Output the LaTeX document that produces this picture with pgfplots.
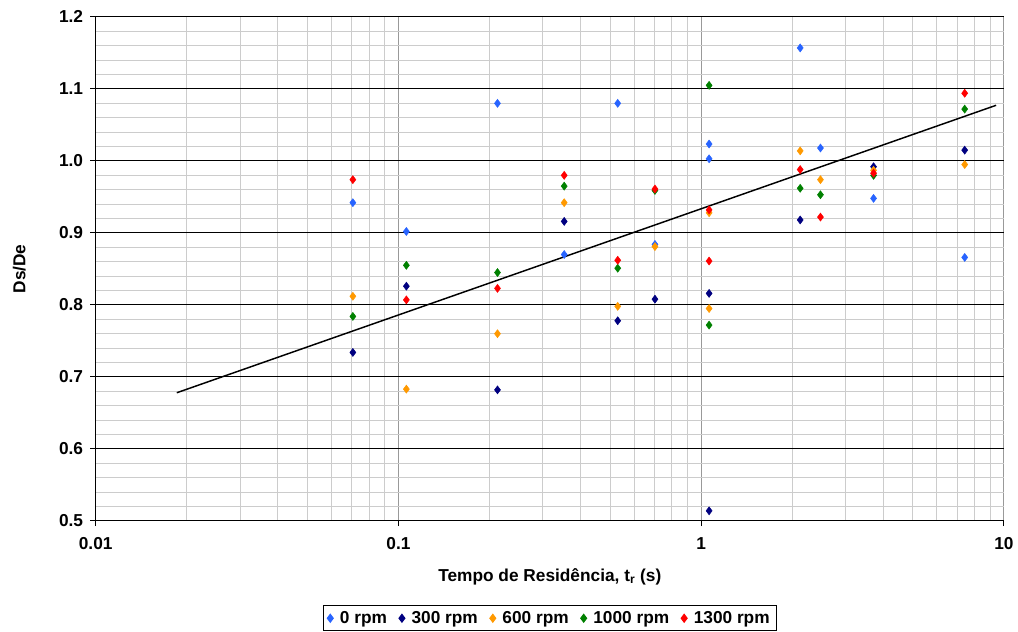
\documentclass[border=0pt]{standalone}
\usepackage{pgfplots}
\pgfplotsset{compat=1.18}
\usepackage{fontspec}
\setmainfont{Liberation Sans}
\definecolor{c0}{RGB}{40,100,255}
\definecolor{c300}{RGB}{0,0,128}
\definecolor{c600}{RGB}{255,153,0}
\definecolor{c1000}{RGB}{0,128,0}
\definecolor{c1300}{RGB}{255,0,0}
\begin{document}
\begin{tikzpicture}
\begin{axis}[
  at={(0,0)}, anchor=south west,
  scale only axis, width=683.25pt, height=379.1pt,
  xmode=log, xmin=0.01, xmax=10, ymin=0.5, ymax=1.2,
  xtick={0.01,0.1,1,10}, xticklabels={0.01,0.1,1,10},
  ytick={0.5,0.6,0.7,0.8,0.9,1.0,1.1,1.2},
  minor y tick num=4,
  grid=both,
  major x grid style={color=black!40, line width=0.75pt},
  major y grid style={color=black, line width=0.75pt},
  minor grid style={color=black!20, line width=0.75pt},
  axis lines*=left, axis line style={line width=0.75pt},
  tick align=outside, major tick length=4pt, minor tick length=0pt,
  tick style={black, line width=0.75pt},
  /pgf/number format/assume math mode=true,
  yticklabel style={/pgf/number format/.cd, fixed, fixed zerofill, precision=1, /tikz/.cd, xshift=-2pt},
  xticklabel style={yshift=-5pt},
  every tick label/.append style={font=\fontsize{13}{15}\selectfont\bfseries},
  xlabel={Tempo de Residência, t\textsubscript{r} (s)},
  ylabel={Ds/De},
  label style={font=\fontsize{13}{15}\selectfont\bfseries},
  xlabel style={at={(axis description cs:0.5,-0.111)}, anchor=center},
  ylabel style={at={(axis description cs:-0.084,0.5)}, anchor=center},
  legend style={at={(0.5,-0.1677)}, anchor=north, legend columns=-1, draw=black,
    line width=0.75pt, font=\fontsize{13}{15}\selectfont\bfseries,
    /tikz/every odd column/.append style={column sep=3pt},
    /tikz/every even column/.append style={column sep=7pt}},
  legend cell align=left,
  every axis plot/.append style={only marks, mark=diamond*, mark size=3pt},
]
\addplot[c0, mark options={fill=c0}] coordinates {
(0.0707,0.942) (0.1062,0.902) (0.2124,1.080) (0.3528,0.870) (0.530,1.080) (0.7035,0.884)
(1.062,1.0235) (1.062,1.003) (2.123,1.157) (2.477,1.018) (3.71,0.948) (7.42,0.866)};
\addlegendentry{0 rpm}
\addplot[c300, mark options={fill=c300}] coordinates {
(0.0707,0.734) (0.1062,0.826) (0.2124,0.682) (0.3528,0.916) (0.530,0.778) (0.7035,0.808)
(1.062,0.816) (1.062,0.514) (2.123,0.918) (3.71,0.992) (7.42,1.015)};
\addlegendentry{300 rpm}
\addplot[c600, mark options={fill=c600}] coordinates {
(0.0707,0.812) (0.1062,0.683) (0.2124,0.760) (0.3528,0.942) (0.530,0.798) (0.7035,0.881)
(1.062,0.928) (1.062,0.795) (2.123,1.014) (2.477,0.974) (3.71,0.987) (7.42,0.995)};
\addlegendentry{600 rpm}
\addplot[c1000, mark options={fill=c1000}] coordinates {
(0.0707,0.784) (0.1062,0.855) (0.2124,0.845) (0.3528,0.965) (0.530,0.851) (0.7035,0.959)
(1.062,1.105) (1.062,0.772) (2.123,0.962) (2.477,0.953) (3.71,0.980) (7.42,1.072)};
\addlegendentry{1000 rpm}
\addplot[c1300, mark options={fill=c1300}] coordinates {
(0.0707,0.974) (0.1062,0.807) (0.2124,0.823) (0.3528,0.980) (0.530,0.862) (0.7035,0.961)
(1.062,0.932) (1.062,0.861) (2.123,0.988) (2.477,0.922) (3.71,0.983) (7.42,1.094)};
\addlegendentry{1300 rpm}
\addplot[black, line width=1.1pt, no marks, sharp plot, forget plot] coordinates {
(0.01853,0.678) (9.42,1.0773)};
\end{axis}
\path[use as bounding box] (-72pt,-81.4pt) rectangle (691.5pt,391.85pt);
\end{tikzpicture}
\end{document}
